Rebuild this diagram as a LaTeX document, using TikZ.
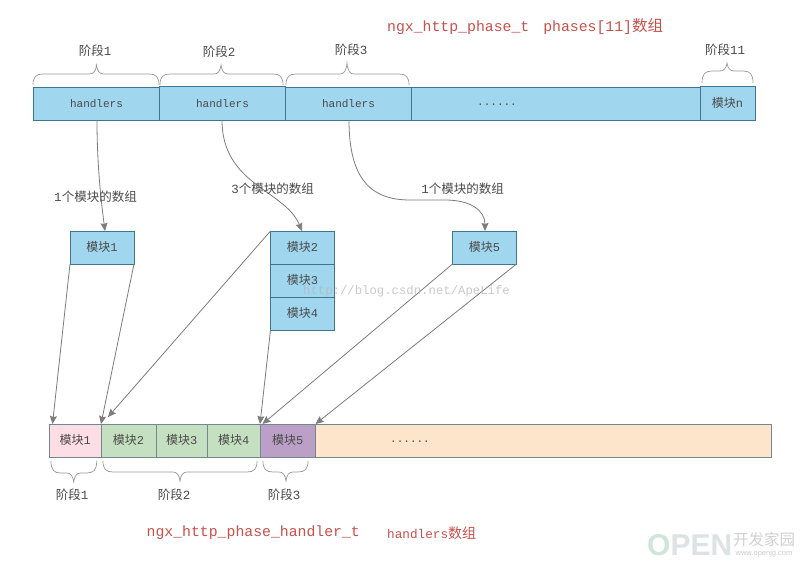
\documentclass[tikz,border=0pt]{standalone}
\usepackage{fontspec}
\setmainfont{Liberation Mono}
\newfontfamily\cjk{Noto Sans CJK SC}
\newfontfamily\logofont{Liberation Sans}
\usetikzlibrary{arrows.meta}
\definecolor{cellblue}{HTML}{A0D6EE}
\definecolor{edgeblue}{HTML}{3F7590}
\definecolor{edgegrey}{HTML}{73878F}
\definecolor{cellpink}{HTML}{FDDDE6}
\definecolor{cellgreen}{HTML}{C5E0C0}
\definecolor{cellpurple}{HTML}{BB9FC6}
\definecolor{cellpeach}{HTML}{FDE5CC}
\definecolor{wire}{HTML}{7C7C7C}
\definecolor{bracecol}{HTML}{999999}
\definecolor{textcol}{HTML}{4A4A4A}
\definecolor{titlered}{HTML}{C8504A}
\newcommand{\mk}[1]{\raisebox{1.5pt}{{\cjk 模块}#1}}
\newcommand{\jd}[1]{{\cjk 阶段}#1}
\newcommand{\sz}[1]{#1{\cjk 个模块的数组}}
% curly brace opening downward: x1, x2, tip x, end y, flat y, tip y
\newcommand{\bracedown}[6]{%
  \draw[bracecol,line width=.7pt]
    (#1,#4) .. controls (#1,#5+3) and (#1+3,#5) .. (#1+10,#5)
    -- (#3-7,#5) .. controls (#3-3,#5) and (#3-.7,#5-3) .. (#3,#6)
    .. controls (#3+.7,#5-3) and (#3+3,#5) .. (#3+7,#5)
    -- (#2-10,#5) .. controls (#2-3,#5) and (#2,#5+3) .. (#2,#4);}
% the same brace opening upward
\newcommand{\braceup}[6]{%
  \draw[bracecol,line width=.7pt]
    (#1,#4) .. controls (#1,#5-3) and (#1+3,#5) .. (#1+10,#5)
    -- (#3-7,#5) .. controls (#3-3,#5) and (#3-.7,#5+3) .. (#3,#6)
    .. controls (#3+.7,#5+3) and (#3+3,#5) .. (#3+7,#5)
    -- (#2-10,#5) .. controls (#2-3,#5) and (#2,#5-3) .. (#2,#4);}
\tikzset{
  cell/.style={draw=edgeblue,line width=.8pt,fill=cellblue,anchor=north west,inner sep=0pt,outer sep=0pt,
    minimum height=33pt,text=textcol,font=\fontsize{12}{14}\selectfont},
  lowcell/.style={cell,draw=edgegrey,line width=1pt},
  mono/.style={font=\fontsize{11}{13}\selectfont},
  note/.style={inner sep=0pt,text=textcol,font=\fontsize{12.5}{15}\selectfont},
  title/.style={inner sep=0pt,anchor=west,text=titlered,font=\fontsize{14.8}{17}\selectfont},
  link/.style={wire,line width=.8pt,-{Stealth[length=8pt,width=7pt,inset=1pt]}},
}
\begin{document}
\begin{tikzpicture}[x=1pt,y=-1pt]
\useasboundingbox[fill=white] (0,0) rectangle (800,565);

% phases array
\node[cell,mono,minimum width=126pt] (h1) at (33.5,87) {handlers};
\node[cell,mono,minimum width=126pt,minimum height=33.5pt] (h2) at (159.5,86.5) {handlers};
\node[cell,mono,minimum width=126pt] (h3) at (285.5,87) {handlers};
\node[cell,mono,minimum width=288.5pt] (rest) at (411.5,87) {};
\node[cell,minimum width=55pt,minimum height=33.5pt] (hn) at (700,86.5) {\mk{n}};
\node[mono,text=textcol,inner sep=0pt] (topdots) at (497,105) {......};

% phase braces and labels above the array
\bracedown{33}{159}{96.5}{85}{74}{65}
\bracedown{160}{283}{221}{85}{74}{65}
\bracedown{286}{409}{347}{85}{74}{63}
\bracedown{702}{753}{727}{83}{71}{63}
\node[note] (p1) at (95,51) {\jd{1}};
\node[note] (p2) at (219,52) {\jd{2}};
\node[note] (p3) at (351,50) {\jd{3}};
\node[note] (p11) at (725,50) {\jd{11}};

\node[title] (toptitle) at (387,27) {ngx\_http\_phase\_t\hspace{14pt}phases[11]{\cjk\fontsize{15.5}{17}\selectfont 数组}};

% modules registered per phase
\node[cell,minimum width=64pt] (m1) at (70,231) {\mk{1}};
\node[cell,minimum width=64pt] (m2) at (270.5,231) {\mk{2}};
\node[cell,minimum width=64pt] (m3) at (270.5,264) {\mk{3}};
\node[cell,minimum width=64pt] (m4) at (270.5,297) {\mk{4}};
\node[cell,minimum width=64pt] (m5) at (452.5,231) {\mk{5}};

% flattened handlers array
\node[lowcell,fill=cellpink,minimum width=51.5pt] (c1) at (49.5,424) {\mk{1}};
\node[lowcell,fill=cellgreen,minimum width=55pt] (c2) at (101,424) {\mk{2}};
\node[lowcell,fill=cellgreen,minimum width=51.5pt] (c3) at (156,424) {\mk{3}};
\node[lowcell,fill=cellgreen,minimum width=52.5pt] (c4) at (207.5,424) {\mk{4}};
\node[lowcell,fill=cellpeach,minimum width=455.5pt] (c6) at (315.5,424) {};
\node[lowcell,fill=cellpurple,minimum width=55.5pt] (c5) at (260,424) {\mk{5}};
\node[mono,text=textcol,inner sep=0pt] (lowdots) at (410,442) {......};

% phase braces and labels below the array
\braceup{51}{96.7}{73.7}{461}{473}{482}
\braceup{103}{257}{180}{461}{472}{481}
\braceup{263}{308}{286}{461}{472}{481}
\node[note] (q1) at (72,495) {\jd{1}};
\node[note] (q2) at (174,495) {\jd{2}};
\node[note] (q3) at (284,495) {\jd{3}};

\node[title] (lowtitle) at (146.5,533) {ngx\_http\_phase\_handler\_t};
\node[title,font=\fontsize{12.7}{15}\selectfont] (lowtitleb) at (387,533) {handlers{\cjk\fontsize{14}{15}\selectfont 数组}};

% curved links from phases to their module arrays
\coordinate (h1out) at (97,120);
\coordinate (h2out) at (222,120);
\coordinate (h3out) at (349,120);
\coordinate (m1in) at (105,231);
\coordinate (m2in) at (302,231);
\coordinate (m5in) at (485,231);
\draw[link] (h1out) .. controls (97,165) and (101,200) .. (m1in);
\draw[link] (h2out) .. controls (222,185) and (285,190) .. (m2in);
\draw[link] (h3out) .. controls (349,178) and (370,200) .. (410,200)
  -- (445,200) .. controls (470,200) and (485,210) .. (m5in);

\node[note] (n1) at (95.5,197) {\sz{1}};
\node[note] (n3) at (272.5,189) {\sz{3}};
\node[note] (n5) at (462.5,189) {\sz{1}};

% straight links into the handlers array
\coordinate (c1in) at (52.5,424);
\coordinate (c2mid) at (108,417);
\coordinate (c5mid) at (262.5,424);
\draw[link] (m1.south west) -- (c1in);
\draw[link] (m1.south east) -- (c2.north west);
\draw[link] (m2.north west) -- (c2mid);
\draw[link] (m4.south west) -- (c5.north west);
\draw[link] (m5.south west) -- (c5mid);
\draw[link] (m5.south east) -- (c6.north west);

% blog address printed across the picture
\node[inner sep=0pt,text=black!28,font=\fontsize{12.3}{14}\selectfont,opacity=.75] (blog) at (406.5,291) {http://blog.csdn.net/ApeLife};

% site logo in the corner
\node[inner sep=0pt,anchor=west,font=\logofont\bfseries\fontsize{30}{32}\selectfont] (logo) at (647,545)
  {\textcolor[HTML]{CFE5DC}{O}\textcolor[HTML]{DDE3E3}{PEN}};
\node[inner sep=0pt,text=black!18,font=\cjk\fontsize{15.5}{16}\selectfont] (logocn) at (764,540) {开发家园};
\node[inner sep=0pt,text=black!20,font=\logofont\fontsize{7.5}{9}\selectfont] (logourl) at (764,553.5) {www.openjg.com};
\end{tikzpicture}
\end{document}
